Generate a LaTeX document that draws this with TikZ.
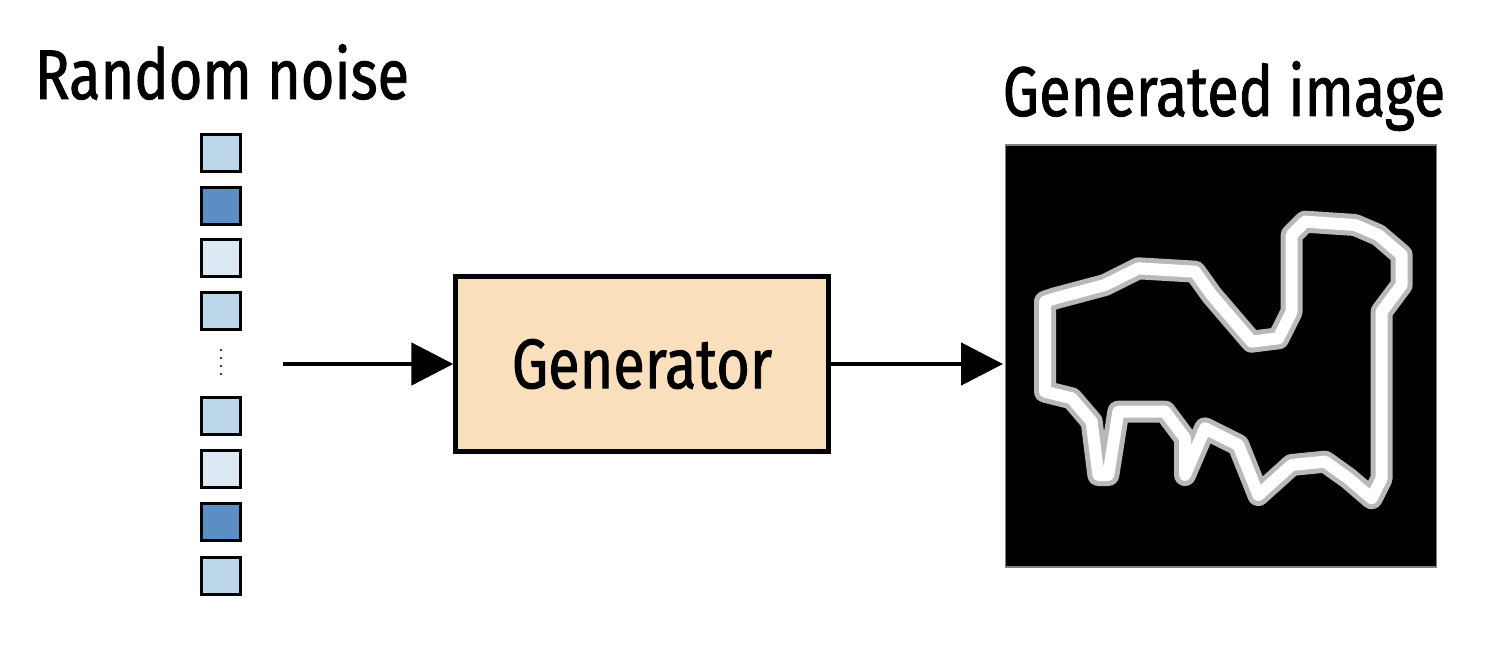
\documentclass[tikz,border=0pt]{standalone}
\usepackage{fontspec}
\setmainfont{Fira Sans}[FakeStretch=0.82,FakeBold=1.2]
\usetikzlibrary{arrows.meta}
\definecolor{lb}{HTML}{BCD6EA}
\definecolor{db}{HTML}{5B8FC4}
\definecolor{vb}{HTML}{DCE8F3}
\definecolor{gen}{HTML}{F9DFBB}
\begin{document}
\begin{tikzpicture}[x=0.02cm,y=-0.02cm,
  cell/.style={draw=black,line width=1.8pt,minimum width=0.78cm,minimum height=0.74cm,inner sep=0pt},
  lbl/.style={font=\fontsize{40}{42}\selectfont,inner sep=0pt},
  arr/.style={line width=2.8pt,-{Triangle[length=0.84cm,width=0.84cm]}}]
\useasboundingbox (0,0) rectangle (1494,656);
\node[lbl] (rn) at (222,72) {Random noise};
\node[lbl] (gi) at (1224,96) {Generated image};
\node[cell,fill=lb] (c1) at (221,153) {};
\node[cell,fill=db] (c2) at (221,206) {};
\node[cell,fill=vb] (c3) at (221,258) {};
\node[cell,fill=lb] (c4) at (221,311) {};
\foreach \yy [count=\i] in {350,358,366,374} \fill (221,\yy) circle (1.2);
\node[cell,fill=lb] (c5) at (221,416) {};
\node[cell,fill=vb] (c6) at (221,469) {};
\node[cell,fill=db] (c7) at (221,522) {};
\node[cell,fill=lb] (c8) at (221,576) {};
\coordinate (s) at (283,364);
\node[draw,line width=2.8pt,fill=gen,minimum width=7.45cm,minimum height=3.5cm,lbl] (g) at (642,364) {Generator};
\node[fill=black,draw=gray,line width=1pt,minimum width=8.62cm,minimum height=8.44cm,inner sep=0pt] (img) at (1221,356) {};
\coordinate (t) at (1003,364);
\draw[arr] (s) -- (g.west);
\draw[arr] (g.east) -- (t);
\begin{scope}[shift={(1005,145)},scale=1/3]
\def\camel{(120,470) -- (120,740) -- (200,760) -- (260,830) -- (280,990) -- (310,990) -- (340,800) -- (480,800) -- (540,880) -- (540,990) -- (600,850) -- (700,900) -- (760,1050) -- (860,960) -- (960,950) -- (1030,1000) -- (1100,1060) -- (1130,1000) -- (1130,500) -- (1190,420) -- (1190,330) -- (1120,270) -- (1050,240) -- (900,230) -- (860,270) -- (860,500) -- (820,580) -- (740,590) -- (680,520) -- (620,450) -- (570,380) -- (400,370) -- (300,420) -- (150,460) -- cycle}
\draw[gray!55,line width=0.44cm,line join=round] \camel;
\draw[white,line width=0.24cm,line join=round] \camel;
\end{scope}
\end{tikzpicture}
\end{document}
